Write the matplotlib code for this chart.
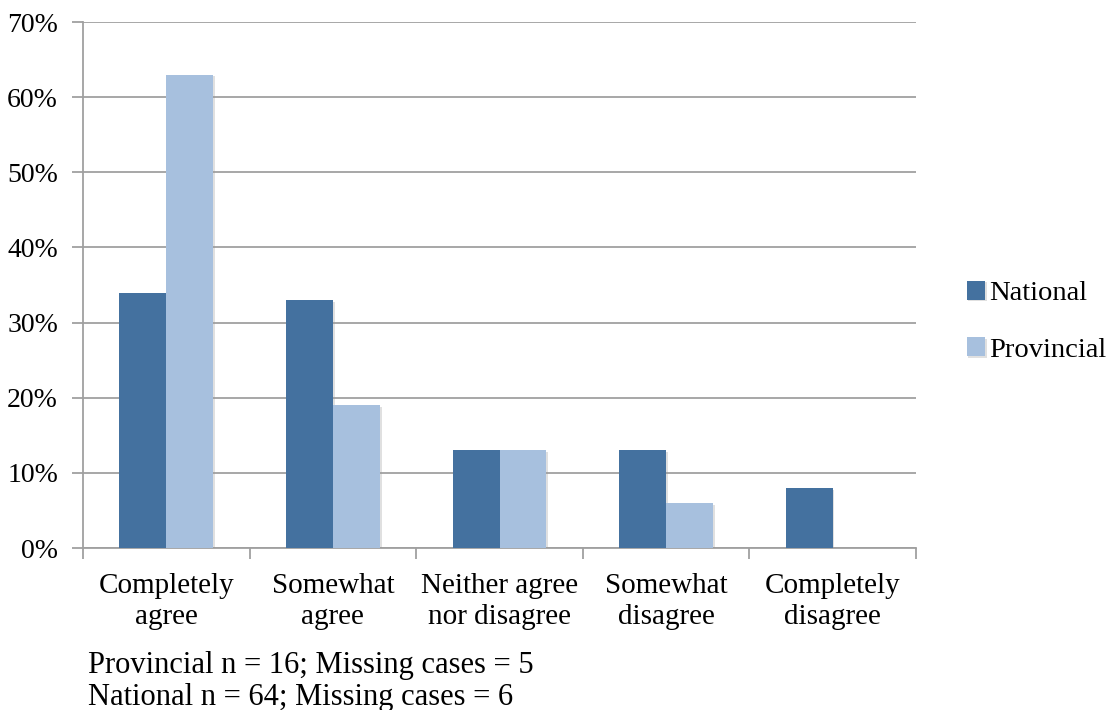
import numpy as np
import matplotlib.pyplot as plt
import matplotlib.patheffects as pe
from matplotlib.ticker import FuncFormatter

categories = ["Completely\nagree", "Somewhat\nagree", "Neither agree\nnor disagree",
              "Somewhat\ndisagree", "Completely\ndisagree"]
national = [34, 33, 13, 13, 8]
provincial = [63, 19, 13, 6, 0]

plt.rcParams['font.family'] = ['Liberation Serif', 'DejaVu Serif']

fig = plt.figure(figsize=(11.12, 7.1), dpi=100)
ax = fig.add_axes([83 / 1112, 1 - 548 / 710, (916 - 83) / 1112, (548 - 22) / 710])

x = np.arange(len(categories))
w = 0.282
shadow = [pe.SimplePatchShadow(offset=(1.2, -1.2), shadow_rgbFace='#999999', alpha=0.3), pe.Normal()]
b1 = ax.bar(x - w / 2, national, w, color='#44719F', label='National', zorder=3)
b2 = ax.bar(x + w / 2, [v if v > 0 else np.nan for v in provincial], w,
            color='#A7C0DE', label='Provincial', zorder=3)
for b in list(b1) + list(b2):
    b.set_path_effects(shadow)

ax.set_xlim(-0.5, len(categories) - 0.5)
ax.set_ylim(0, 70)
ax.set_yticks(range(0, 71, 10))
ax.yaxis.set_major_formatter(FuncFormatter(lambda v, p: f"{v:.0f}%"))
ax.yaxis.grid(True, color='#A0A0A0', linewidth=1.3, zorder=0)
ax.set_axisbelow(True)

ax.set_xticks(np.arange(-0.5, len(categories), 1.0))
ax.set_xticklabels([])
ax.set_xticks(x, minor=True)
ax.set_xticklabels(categories, minor=True, fontsize=21, linespacing=1.25)
ax.tick_params(axis='x', which='minor', length=0, pad=18)
ax.tick_params(axis='x', which='major', length=8, width=1.3, color='#A0A0A0')
ax.tick_params(axis='y', length=8, width=1.3, color='#A0A0A0', labelsize=20, pad=10)

for s in ['top', 'right']:
    ax.spines[s].set_visible(False)
for s in ['left', 'bottom']:
    ax.spines[s].set_color('#A0A0A0')
    ax.spines[s].set_linewidth(1.3)

ax.legend(loc='center left', bbox_to_anchor=(1.047, 0.43), frameon=False, fontsize=20.5,
          handlelength=0.65, handleheight=0.65, handletextpad=0.15, labelspacing=1.1,
          borderaxespad=0)

fig.text(88 / 1112, 1 - 665 / 710, "Provincial n = 16; Missing cases = 5", fontsize=22, va='center')
fig.text(88 / 1112, 1 - 697 / 710, "National n = 64; Missing cases = 6", fontsize=22, va='center')

fig.savefig("out.png", dpi=100)
